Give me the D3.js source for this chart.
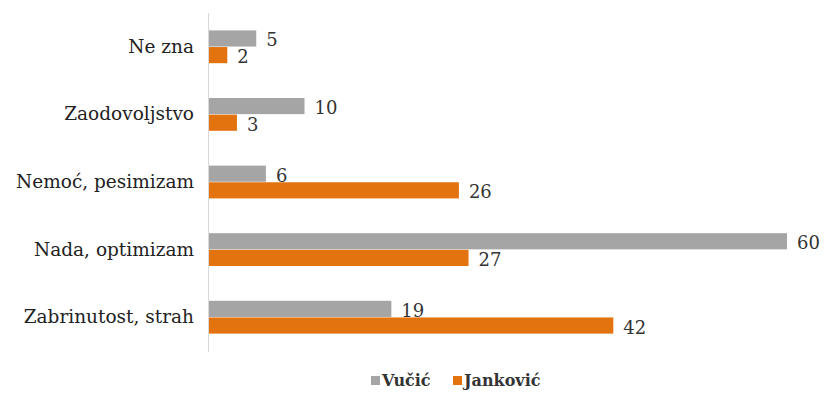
<!DOCTYPE html>
<html><head><meta charset="utf-8">
<script src="https://cdn.jsdelivr.net/npm/d3@7/dist/d3.min.js"></script>
<style>body{margin:0;background:#fff}svg{display:block}</style>
</head><body><svg id="c" width="826" height="400"></svg>
<script>
const categories = ["Ne zna", "Zaodovoljstvo", "Nemoć, pesimizam", "Nada, optimizam", "Zabrinutost, strah"];
const seriesNames = ["Vučić", "Janković"];
const vucic = [5, 10, 6, 60, 19];
const jankovic = [2, 3, 26, 27, 42];
const colors = ["#a5a5a5", "#e3730f"];

const svg = d3.select("#c");
const font = "'DejaVu Serif', serif";
const x = d3.scaleLinear().domain([0, 60]).range([208, 787]);
const y = d3.scaleBand().domain(categories).range([13, 351]).paddingInner(0.5).paddingOuter(0.25);
const sub = d3.scaleBand().domain(seriesNames).range([0, y.bandwidth()]).padding(0.03);

const data = categories.map((c, i) => ({c, vals: [vucic[i], jankovic[i]]}));

const g = svg.append("g");
data.forEach(d => {
  d.vals.forEach((v, j) => {
    const yy = y(d.c) + sub(seriesNames[j]);
    g.append("rect").attr("x", x(0)).attr("y", yy).attr("width", x(v) - x(0)).attr("height", sub.bandwidth()).attr("fill", colors[j]);
    g.append("text").attr("x", x(v) + 10).attr("y", yy + sub.bandwidth() / 2 + 3).attr("dominant-baseline", "middle")
      .attr("font-family", font).attr("font-size", 18).attr("fill", "#333").text(v);
  });
});

// axis
const axis = d3.axisLeft(y).tickSize(0).tickPadding(14);
const ag = svg.append("g").attr("transform", `translate(${x(0)},0)`).call(axis);
ag.select(".domain").attr("stroke", "#d9d9d9").attr("d", `M0.5,13V352`);
ag.selectAll("text").attr("font-family", font).attr("font-size", 18.5).attr("fill", "#222");

// legend
const leg = svg.append("g").attr("transform", "translate(0,381)");
const lx = [371, 453];
seriesNames.forEach((n, j) => {
  leg.append("rect").attr("x", lx[j]).attr("y", -5).attr("width", 9).attr("height", 9).attr("fill", colors[j]);
  leg.append("text").attr("x", lx[j] + 11).attr("y", 0).attr("dominant-baseline", "middle")
    .attr("font-family", font).attr("font-size", 16).attr("font-weight", "bold").attr("fill", "#333").text(n);
});
</script></body></html>
